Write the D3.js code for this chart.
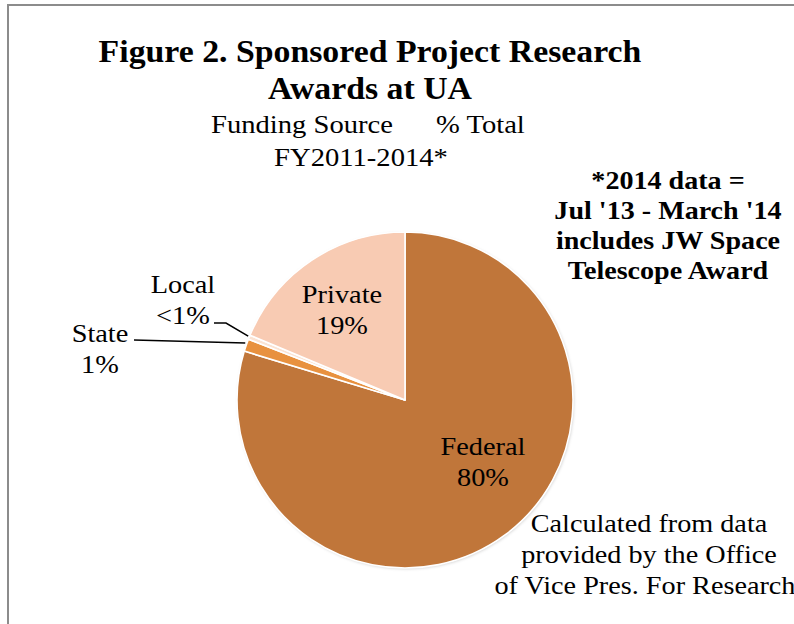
<!DOCTYPE html>
<html>
<head>
<meta charset="utf-8">
<script src="https://cdn.jsdelivr.net/npm/d3@7"></script>
<style>
  html, body { margin: 0; padding: 0; background: #fff; }
  svg { display: block; }
  text { font-family: "Liberation Serif", "Times New Roman", serif; fill: #000; }
</style>
</head>
<body>
<svg id="chart" width="794" height="624"></svg>
<script>
// ---- data ----
const categories = ["Federal", "State", "Local", "Private"];
const values = [79.7, 1.2, 0.4, 18.7];
const valueLabels = ["80%", "1%", "<1%", "19%"];
const colors = ["#C0763A", "#E8913F", "#FBE3D3", "#F8CBB3"];
const titleLines = ["Figure 2. Sponsored Project Research", "Awards at UA"];
const subtitleParts = ["Funding Source", "% Total"];
const subtitleLine2 = "FY2011-2014*";
const noteLines = ["*2014 data =", "Jul '13 - March '14", "includes JW Space", "Telescope Award"];
const sourceLines = ["Calculated from data", "provided by the Office", "of Vice Pres. For Research"];

// ---- layout ----
const cx = 405, cy = 400, R = 168;
const K = 1.09; // horizontal stretch to mimic the wider original face
const svg = d3.select("#chart");

function stretch(sel, k) {
  const kk = k || K;
  sel.each(function () {
    const w = this.getComputedTextLength();
    d3.select(this).attr("textLength", w * kk).attr("lengthAdjust", "spacingAndGlyphs");
  });
  return sel;
}

// frame border
svg.append("rect").attr("x", 8).attr("y", 5).attr("width", 820).attr("height", 660)
  .attr("fill", "none").attr("stroke", "#8c8c8c").attr("stroke-width", 2);

// shadow filter
const defs = svg.append("defs");
const f = defs.append("filter").attr("id", "sh").attr("x", "-10%").attr("y", "-10%").attr("width", "120%").attr("height", "120%");
f.append("feDropShadow").attr("dx", 1).attr("dy", 1).attr("stdDeviation", 1.5)
  .attr("flood-color", "#000").attr("flood-opacity", 0.18);

// titles
const title = svg.append("g");
stretch(title.selectAll("text.t").data(titleLines).join("text")
  .attr("class", "t").attr("x", 370).attr("y", (d, i) => 62 + i * 37)
  .attr("text-anchor", "middle").attr("font-weight", "bold").attr("font-size", 31)
  .text(d => d));
stretch(title.selectAll("text.s").data(subtitleParts).join("text")
  .attr("class", "s").attr("x", (d, i) => i === 0 ? 393 : 436).attr("y", 133)
  .attr("text-anchor", (d, i) => i === 0 ? "end" : "start").attr("font-size", 26)
  .text(d => d), 1.1);
stretch(title.append("text").attr("x", 361).attr("y", 166)
  .attr("text-anchor", "middle").attr("font-size", 26).text(subtitleLine2), 1.1);

// note (bold, right)
stretch(svg.append("g").selectAll("text").data(noteLines).join("text")
  .attr("x", 668).attr("y", (d, i) => 189 + i * 30)
  .attr("text-anchor", "middle").attr("font-weight", "bold").attr("font-size", 26)
  .text(d => d), 1.08);

// source (bottom right)
stretch(svg.append("g").selectAll("text").data(sourceLines).join("text")
  .attr("x", (d, i) => i === 2 ? 645 : 649).attr("y", (d, i) => 532 + i * 31)
  .attr("text-anchor", "middle").attr("font-size", 26)
  .text(d => d), 1.085);

// pie
const pie = d3.pie().sort(null).value(d => d.v).startAngle(0).endAngle(2 * Math.PI);
const data = categories.map((c, i) => ({ c, v: values[i], lab: valueLabels[i], col: colors[i] }));
const arcs = pie(data);
const arc = d3.arc().innerRadius(0).outerRadius(R);
const g = svg.append("g").attr("transform", `translate(${cx},${cy})`);
g.append("circle").attr("r", R).attr("fill", "#fff").attr("filter", "url(#sh)");
g.selectAll("path").data(arcs).join("path")
  .attr("d", arc).attr("fill", d => d.data.col)
  .attr("stroke", "#fff").attr("stroke-width", 1.6).attr("stroke-linejoin", "round");

// labels
const labelPos = {
  Federal: [483, 455], Private: [342, 303], State: [100, 342], Local: [183, 293]
};
const lab = svg.append("g");
arcs.forEach(a => {
  const [lx, ly] = labelPos[a.data.c];
  stretch(lab.append("text").attr("x", lx).attr("y", ly).attr("text-anchor", "middle")
    .attr("font-size", 26).text(a.data.c));
  stretch(lab.append("text").attr("x", lx).attr("y", ly + 31).attr("text-anchor", "middle")
    .attr("font-size", 26).text(a.data.lab));
});

// leader lines for small slices
const edge = a => {
  const m = (a.startAngle + a.endAngle) / 2;
  return [cx + Math.sin(m) * R, cy - Math.cos(m) * R];
};
const se = edge(arcs[1]), le = edge(arcs[2]);
const line = d3.line();
svg.append("path").attr("d", line([[134, 340], [se[0] - 1, se[1] - 2]]))
  .attr("fill", "none").attr("stroke", "#000").attr("stroke-width", 1.5);
svg.append("path").attr("d", line([[214, 323], [226, 323], [le[0] - 1, le[1] - 1]]))
  .attr("fill", "none").attr("stroke", "#000").attr("stroke-width", 1.5);
</script>
</body>
</html>
